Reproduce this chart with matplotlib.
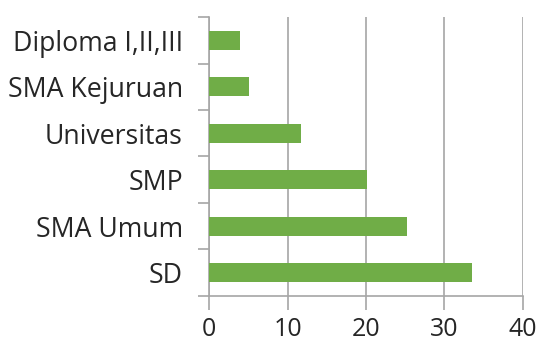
import matplotlib
matplotlib.use("Agg")
import matplotlib.pyplot as plt
import numpy as np

categories = ["SD", "SMA Umum", "SMP", "Universitas", "SMA Kejuruan", "Diploma I,II,III"]
values = [33.6, 25.3, 20.15, 11.65, 5.07, 3.9]
x_ticks = [0, 10, 20, 30, 40]

bar_color = "#70AD47"
line_color = "#A6A6A6"

plt.rcParams["font.family"] = ["Open Sans", "DejaVu Sans"]

fig = plt.figure(figsize=(5.41, 3.47), dpi=100)
ax = fig.add_axes([0.387, 0.147, 0.579, 0.804])

y = np.arange(len(categories))
ax.barh(y, values, height=0.4, color=bar_color, zorder=3)

ax.set_xlim(0, 40)
ax.set_ylim(-0.5, len(categories) - 0.5)
ax.set_xticks(x_ticks)
ax.set_xticklabels([str(t) for t in x_ticks], fontsize=18, color="#262626")
ax.set_yticks(y)
ax.set_yticklabels(categories, fontsize=19.2, color="#262626")
ax.set_yticks(np.arange(len(categories) + 1) - 0.5, minor=True)

ax.tick_params(axis="y", which="major", length=0, pad=19)
ax.tick_params(axis="y", which="minor", length=8, width=1.2, color=line_color)
ax.tick_params(axis="x", which="major", length=10, width=1.2, color=line_color, pad=5)

ax.grid(axis="x", color=line_color, linewidth=1.2, zorder=0)
for side in ("top", "right"):
    ax.spines[side].set_visible(False)
for side in ("left", "bottom"):
    ax.spines[side].set_color(line_color)
    ax.spines[side].set_linewidth(1.2)

fig.savefig("out.png", dpi=100)
